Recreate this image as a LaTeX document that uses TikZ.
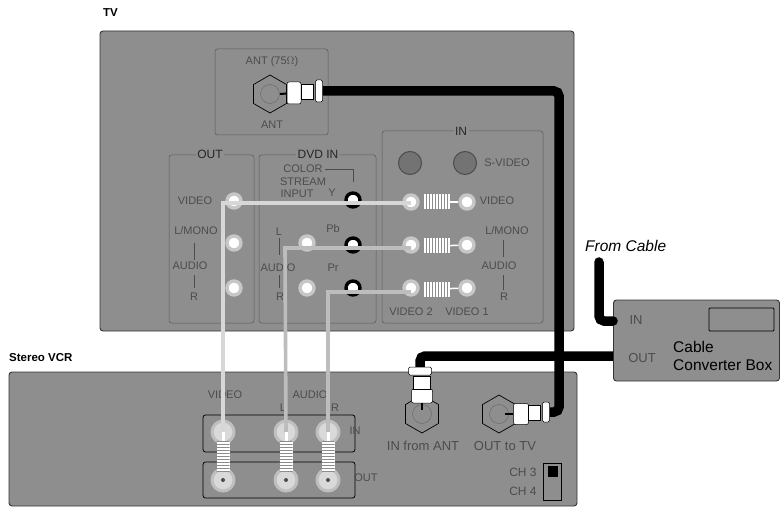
\documentclass[tikz,border=0pt]{standalone}
\usepackage{fontspec}
\setmainfont{Liberation Sans}
\usetikzlibrary{shapes.geometric,patterns}
\definecolor{bodygray}{HTML}{8E8E8E}
\definecolor{labelgray}{HTML}{4C4C4C}
\definecolor{cablegray}{HTML}{BDBDBD}
\tikzset{
	chassis/.style={rectangle, draw=black!80, line width=0.9pt, rounded corners=3pt, fill=bodygray},
	panel/.style={rectangle, draw=black!65, line width=0.5pt, rounded corners=2.5pt},
	title/.style={font=\bfseries\fontsize{11.5}{12}\selectfont, text=black, inner sep=0pt},
	tag/.style={font=\fontsize{11}{12}\selectfont, text=labelgray, inner sep=0pt},
	head/.style={font=\fontsize{12}{13}\selectfont, text=black!85, fill=bodygray, inner sep=1.5pt},
	jack/.style={circle, fill=white, draw=black!22, line width=3.4pt, minimum size=14pt, inner sep=0pt},
	vcrjack/.style={circle, fill=black!15, draw=black!25, line width=3pt, minimum size=22pt, inner sep=0pt},
	pin/.style={circle, fill=black!70, minimum size=4pt, inner sep=0pt},
	dvdjack/.style={circle, fill=white, draw=black, line width=3.4pt, minimum size=14pt, inner sep=0pt},
	svideo/.style={circle, fill=black!55, draw=black!70, line width=1pt, minimum size=23pt, inner sep=0pt},
	hexport/.style={regular polygon, regular polygon sides=6, shape border rotate=30, draw=black, line width=0.7pt, fill=bodygray, minimum size=38pt, inner sep=0pt},
	hexcore/.style={circle, draw=black!60, line width=0.4pt, minimum size=19pt, inner sep=0pt},
	plug/.style={rectangle, fill=white, draw=black, line width=0.5pt, inner sep=0pt},
	rcaplug/.style={rectangle, preaction={fill=white}, pattern color=black!45, inner sep=0pt},
	blackcable/.style={line width=9.5pt, draw=black, rounded corners=5pt},
	lightcable/.style={line width=3.6pt, draw=cablegray},
	stem/.style={line width=0.5pt, draw=black!70},
}
\begin{document}
\begin{tikzpicture}[x=1pt,y=-1pt]
		
		\useasboundingbox (0,0) rectangle (780,508);
		
		% Boxes
		
		\node[chassis, minimum width=474pt, minimum height=300pt] 
		(tvBox) at (337,181) {};
		
		\node[chassis, minimum width=568pt, minimum height=134pt] 
		(vcrBox) at (293,439) {};
		
		\node[chassis, minimum width=166pt, minimum height=81pt] 
		(converterBox) at (696.5,340.5) {};
		
		\node[title, anchor=west] (tvTitle) at (103,13) {TV};
		
		\node[title, anchor=west] (vcrTitle) at (9,358) {Stereo VCR};
		
		\node[font=\itshape\fontsize{15.5}{16}\selectfont, anchor=west, inner sep=0pt] 
		(fromCable) at (585,246) {From Cable};
		
		% TV panels
		
		\node[panel, minimum width=113pt, minimum height=86pt] (antPanel) at (271.5,92) {};
		\node[panel, minimum width=85pt, minimum height=168pt] (outPanel) at (211.5,239) {};
		\node[panel, minimum width=117pt, minimum height=168pt] (dvdPanel) at (317.5,239) {};
		\node[panel, minimum width=161pt, minimum height=192pt] (inPanel) at (462.5,227) {};
		
		\node[head] (outHead) at (210,154) {OUT};
		\node[head] (dvdHead) at (318,154) {DVD IN};
		\node[head] (inHead) at (461,131) {IN};
		
		\node[tag] (antTag) at (272,62) {ANT (75$\Omega$)};
		\node[tag] (antTagB) at (272,125) {ANT};
		
		\node[tag] (outVideoTag) at (195,201) {VIDEO};
		\node[tag] (outMonoTag) at (196,231) {L/MONO};
		\node[tag] (outAudioTag) at (190,266) {AUDIO};
		\node[tag] (outRTag) at (194,297) {R};
		
		\node[tag] (colorTag) at (303,169) {COLOR};
		\node[tag] (streamTag) at (303,182) {STREAM};
		\node[tag] (inputTag) at (297,194) {INPUT};
		\node[tag] (yTag) at (332,193) {Y};
		\node[tag] (pbTag) at (333,229) {Pb};
		\node[tag] (prTag) at (333,268) {Pr};
		\node[tag] (dvdLTag) at (279,232) {L};
		\node[tag] (dvdAudioTag) at (278,268) {AUDIO};
		\node[tag] (dvdRTag) at (280,297) {R};
		
		\node[tag] (sVideoTag) at (507,163) {S-VIDEO};
		\node[tag] (inVideoTag) at (497,201) {VIDEO};
		\node[tag] (inMonoTag) at (507,231) {L/MONO};
		\node[tag] (inAudioTag) at (499,266) {AUDIO};
		\node[tag] (inRTag) at (504,297) {R};
		\node[tag] (video2Tag) at (411,312) {VIDEO 2};
		\node[tag] (video1Tag) at (467,312) {VIDEO 1};
		
		\draw[stem] (outMonoTag) ++(-2,12) -- ++(0,17) ++(0,15) -- ++(0,13);
		\draw[stem] (dvdLTag) ++(0,6) -- ++(0,17) ++(0,20) -- ++(0,13);
		\draw[stem] (inMonoTag) ++(-4,9) -- ++(0,17) ++(0,18) -- ++(0,15);
		\draw[stem] (colorTag) ++(22,0) -| (353,182);
		
		% VCR panels and labels
		
		\node[panel, draw=black, line width=0.8pt, minimum width=152pt, minimum height=37pt] (vcrInPanel) at (279,433.5) {};
		\node[panel, draw=black, line width=0.8pt, minimum width=152pt, minimum height=36pt] (vcrOutPanel) at (279,480) {};
		
		\node[tag] (vcrVideoTag) at (225,395) {VIDEO};
		\node[tag] (vcrAudioTag) at (310,395) {AUDIO};
		\node[tag] (vcrLTag) at (283,408) {L};
		\node[tag] (vcrRTag) at (335,408) {R};
		\node[tag] (vcrInTag) at (355,431) {IN};
		\node[tag] (vcrOutTag) at (366,478) {OUT};
		
		\node[font=\fontsize{13}{14}\selectfont, text=labelgray, inner sep=0pt] (inFromAnt) at (423,446) {IN from ANT};
		\node[font=\fontsize{13}{14}\selectfont, text=labelgray, inner sep=0pt] (outToTv) at (505,446) {OUT to TV};
		\node[font=\fontsize{12}{13}\selectfont, text=labelgray, inner sep=0pt] (ch3Tag) at (523,472) {CH 3};
		\node[font=\fontsize{12}{13}\selectfont, text=labelgray, inner sep=0pt] (ch4Tag) at (523,491) {CH 4};
		
		\node[rectangle, draw=black, line width=0.9pt, minimum width=18pt, minimum height=37pt, inner sep=0pt] 
		(channelSwitch) at (552,482) {};
		\node[rectangle, fill=black, minimum width=10pt, minimum height=11pt, inner sep=0pt] 
		(channelSlider) at (553,471) {};
		
		% Converter box labels
		
		\node[tag, font=\fontsize{13}{14}\selectfont] (boxInTag) at (636,320) {IN};
		\node[tag, font=\fontsize{13}{14}\selectfont] (boxOutTag) at (642,358) {OUT};
		\node[font=\fontsize{15.5}{16}\selectfont, anchor=west, inner sep=0pt] (boxName1) at (673,347) {Cable};
		\node[font=\fontsize{15.5}{16}\selectfont, anchor=west, inner sep=0pt] (boxName2) at (673,365) {Converter Box};
		\node[rectangle, draw=black, line width=0.9pt, rounded corners=1pt, minimum width=65pt, minimum height=23pt] 
		(boxWindow) at (741.5,319.5) {};
		
		% Jacks
		
		\node[jack] (outVideo) at (234,201) {};
		\node[jack] (outL) at (234,243) {};
		\node[jack] (outR) at (234,288) {};
		
		\node[jack] (dvdL) at (307,243) {};
		\node[jack] (dvdR) at (307,288) {};
		\node[dvdjack] (dvdY) at (353,200) {};
		\node[dvdjack] (dvdPb) at (353,245) {};
		\node[dvdjack] (dvdPr) at (353,288) {};
		
		\node[svideo] (sVideo2) at (410,163) {};
		\node[svideo] (sVideo1) at (465,163) {};
		
		\node[jack] (inVideo2) at (411,202) {};
		\node[jack] (inAudioL2) at (411,245) {};
		\node[jack] (inAudioR2) at (411,288) {};
		\node[jack] (inVideo1) at (467,202) {};
		\node[jack] (inAudioL1) at (467,245) {};
		\node[jack] (inAudioR1) at (467,288) {};
		
		\node[vcrjack] (vcrInVideo) at (223,432) {};
		\node[vcrjack] (vcrInL) at (286,432) {};
		\node[vcrjack] (vcrInR) at (328,432) {};
		\node[vcrjack] (vcrOutVideo) at (223,480) {};
		\node[vcrjack] (vcrOutL) at (286,480) {};
		\node[vcrjack] (vcrOutR) at (328,480) {};
		
		\node[hexport] (antPort) at (270,94) {};
		\node[hexport] (vcrAntIn) at (422,414) {};
		\node[hexport] (vcrOutTv) at (499,414) {};
		
		\node[hexcore] (antCore) at (270,94) {};
		\node[hexcore] (vcrAntCore) at (422,414) {};
		\node[hexcore] (vcrOutCore) at (499,414) {};
		
		% Light cables
		
		\coordinate (videoBend) at (223,203);
		\coordinate (audioBendL) at (285,248);
		\coordinate (audioBendR) at (328,292);
		
		\draw[lightcable, draw=cablegray!60!white] (vcrInVideo.center) -- (videoBend) -- (inVideo2.center |- videoBend);
		\draw[lightcable] (vcrInL.center) -- (audioBendL) -- (inAudioL2.center |- audioBendL);
		\draw[lightcable] (vcrInR.center) -- (audioBendR) -- (inAudioR2.center |- audioBendR);
		
		% RCA plugs
		
		\node[rcaplug, pattern=vertical lines, minimum width=26pt, minimum height=15pt] (rcaVideoIn) at (437,202) {};
		\node[rcaplug, pattern=vertical lines, minimum width=26pt, minimum height=15pt] (rcaAudioLIn) at (437,246) {};
		\node[rcaplug, pattern=vertical lines, minimum width=26pt, minimum height=15pt] (rcaAudioRIn) at (437,289) {};
		
		\node[rcaplug, pattern=horizontal lines, minimum width=13pt, minimum height=30pt] (rcaVideoVcr) at (223,456) {};
		\node[rcaplug, pattern=horizontal lines, minimum width=13pt, minimum height=30pt] (rcaAudioLVcr) at (286,456) {};
		\node[rcaplug, pattern=horizontal lines, minimum width=13pt, minimum height=30pt] (rcaAudioRVcr) at (328,456) {};
		
		\draw[white, line width=3pt] (vcrInVideo.center) -- (rcaVideoVcr);
		\draw[white, line width=3pt] (vcrInL.center) -- (rcaAudioLVcr);
		\draw[white, line width=3pt] (vcrInR.center) -- (rcaAudioRVcr);
		
		\node[pin] (pinVideo) at (223,480) {};
		\node[pin] (pinL) at (286,480) {};
		\node[pin] (pinR) at (328,480) {};
		
		\draw[white, line width=1.5pt] (rcaVideoIn) -- (inVideo1);
		\draw[white, line width=1.5pt] (rcaAudioLIn) -- (inAudioL1);
		\draw[white, line width=1.5pt] (rcaAudioRIn) -- (inAudioR1);
		
		% Black cables
		
		\node[plug, rounded corners=1.5pt, minimum width=7pt, minimum height=22pt] (antCollar) at (319,91) {};
		\node[plug, rounded corners=1.5pt, minimum width=7pt, minimum height=20pt] (tvCollar) at (546,412) {};
		\node[plug, rounded corners=1.5pt, minimum width=23pt, minimum height=8pt] (inCollar) at (420,371) {};
		
		\coordinate (feedBend) at (420,356);
		\coordinate (fromCableEnd) at (599,262);
		
		\draw[blackcable] (antCollar.east) -- (559,91) -- (559,412) -- (tvCollar.east);
		\draw[blackcable] (inCollar.north) -- (feedBend) -- (feedBend -| converterBox.west);
		\draw[blackcable, line cap=round] (fromCableEnd) -- (599,321) -- (converterBox.west |- 0,321);
		
		% Coax plugs
		
		\node[plug, minimum width=14pt, minimum height=22pt, rounded corners=2pt] (antFerrule) at (294,93) {};
		\node[plug, minimum width=12pt, minimum height=15pt] (antBody) at (307,92) {};
		\node[plug, minimum width=15pt, minimum height=21pt, rounded corners=2pt] (tvFerrule) at (521,414) {};
		\node[plug, minimum width=12pt, minimum height=15pt] (tvBody) at (534,413) {};
		\node[plug, minimum width=21pt, minimum height=14pt, rounded corners=2pt] (inFerrule) at (422,396) {};
		\node[plug, minimum width=17pt, minimum height=13pt] (inBody) at (422,383) {};
		
		\draw[black, line width=2pt] (antPort.center) ++(10,0) -- (antFerrule);
		\draw[black, line width=2pt] (vcrOutTv.center) ++(6,0) -- (tvFerrule);
		\draw[black, line width=2pt] (vcrAntIn.center) ++(0,-4) -- (inFerrule);
		
	\end{tikzpicture}
\end{document}
